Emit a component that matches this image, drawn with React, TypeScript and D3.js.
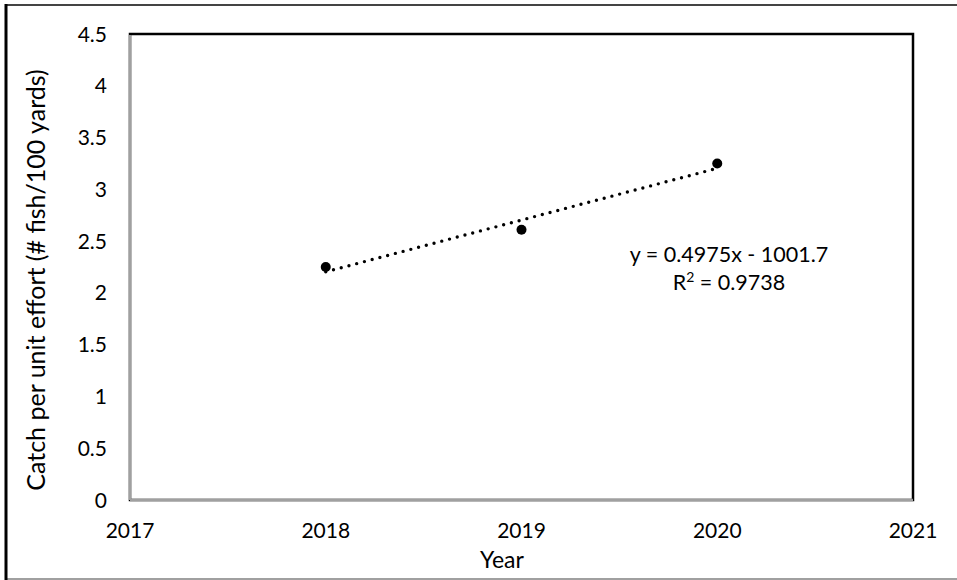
import React, { useEffect, useRef } from 'react';
import * as d3 from 'd3';

const years = [2018, 2019, 2020];
const cpue = [2.25, 2.61, 3.25];
const xTicks = [2017, 2018, 2019, 2020, 2021];
const yTicks = [0, 0.5, 1, 1.5, 2, 2.5, 3, 3.5, 4, 4.5];
const eqLabel = 'y = 0.4975x - 1001.7';
const r2Label = '0.9738';

export default function App() {
  const ref = useRef<SVGSVGElement>(null);

  useEffect(() => {
    const svg = d3.select(ref.current);
    svg.selectAll('*').remove();
    const font = 'Lato, "Open Sans", sans-serif';
    const left = 130, right = 913, top = 34, bottom = 500;

    // outer chart frame
    svg.append('line').attr('x1', 6).attr('x2', 957).attr('y1', 5).attr('y2', 5).attr('stroke', '#444').attr('stroke-width', 2);
    svg.append('line').attr('x1', 6).attr('x2', 957).attr('y1', 579).attr('y2', 579).attr('stroke', '#a0a0a0').attr('stroke-width', 2);
    svg.append('line').attr('x1', 6).attr('x2', 6).attr('y1', 4).attr('y2', 580).attr('stroke', '#000').attr('stroke-width', 3);

    const x = d3.scaleLinear().domain([2017, 2021]).range([left, right]);
    const y = d3.scaleLinear().domain([0, 4.5]).range([bottom, top]);

    // plot area border
    svg.append('rect').attr('x', left).attr('y', top).attr('width', right - left).attr('height', bottom - top)
      .attr('fill', 'none').attr('stroke', '#000').attr('stroke-width', 2.5);
    svg.append('line').attr('x1', left).attr('x2', left).attr('y1', top + 1).attr('y2', bottom).attr('stroke', '#a0a0a0').attr('stroke-width', 2.5);
    svg.append('line').attr('x1', left).attr('x2', right).attr('y1', bottom).attr('y2', bottom).attr('stroke', '#a0a0a0').attr('stroke-width', 2.5);

    svg.selectAll('.ytl').data(yTicks).enter().append('text')
      .attr('x', 107).attr('y', d => y(d) + 7.5)
      .attr('text-anchor', 'end').attr('font-family', font).attr('font-size', 21).attr('fill', '#000')
      .text(d => String(d));

    svg.selectAll('.xtl').data(xTicks).enter().append('text')
      .attr('x', d => x(d)).attr('y', 538)
      .attr('text-anchor', 'middle').attr('font-family', font).attr('font-size', 21).attr('fill', '#000')
      .text(d => String(d));

    svg.append('text').attr('x', 502).attr('y', 568).attr('text-anchor', 'middle')
      .attr('font-family', font).attr('font-size', 23).text('Year');

    svg.append('text').attr('transform', 'translate(45,280) rotate(-90)').attr('text-anchor', 'middle')
      .attr('font-family', font).attr('font-size', 25).text('Catch per unit effort (# fish/100 yards)');

    // linear trendline (least squares)
    const mx = d3.mean(years)!, my = d3.mean(cpue)!;
    const slope = d3.sum(years, (v, i) => (v - mx) * (cpue[i] - my)) / d3.sum(years, v => (v - mx) ** 2);
    const icpt = my - slope * mx;
    const x0 = years[0], x1 = years[years.length - 1];
    svg.append('line')
      .attr('x1', x(x0)).attr('y1', y(slope * x0 + icpt))
      .attr('x2', x(x1)).attr('y2', y(slope * x1 + icpt))
      .attr('stroke', '#000').attr('stroke-width', 3.4)
      .attr('stroke-linecap', 'round').attr('stroke-dasharray', '0 8');

    svg.selectAll('.pt').data(years).enter().append('circle')
      .attr('cx', d => x(d)).attr('cy', (d, i) => y(cpue[i])).attr('r', 5).attr('fill', '#000');

    svg.append('text').attr('x', 729).attr('y', 262).attr('text-anchor', 'middle')
      .attr('font-family', font).attr('font-size', 21.5).text(eqLabel);
    const r2 = svg.append('text').attr('x', 729).attr('y', 290).attr('text-anchor', 'middle')
      .attr('font-family', font).attr('font-size', 21.5);
    r2.append('tspan').text('R');
    r2.append('tspan').attr('font-size', 14).attr('dy', -8).text('2');
    r2.append('tspan').attr('dy', 8).text(' = ' + r2Label);
  }, []);

  return (
    <svg ref={ref} width={957} height={580}
      style={{ position: 'absolute', left: 0, top: 0, background: '#fff' }} />
  );
}
